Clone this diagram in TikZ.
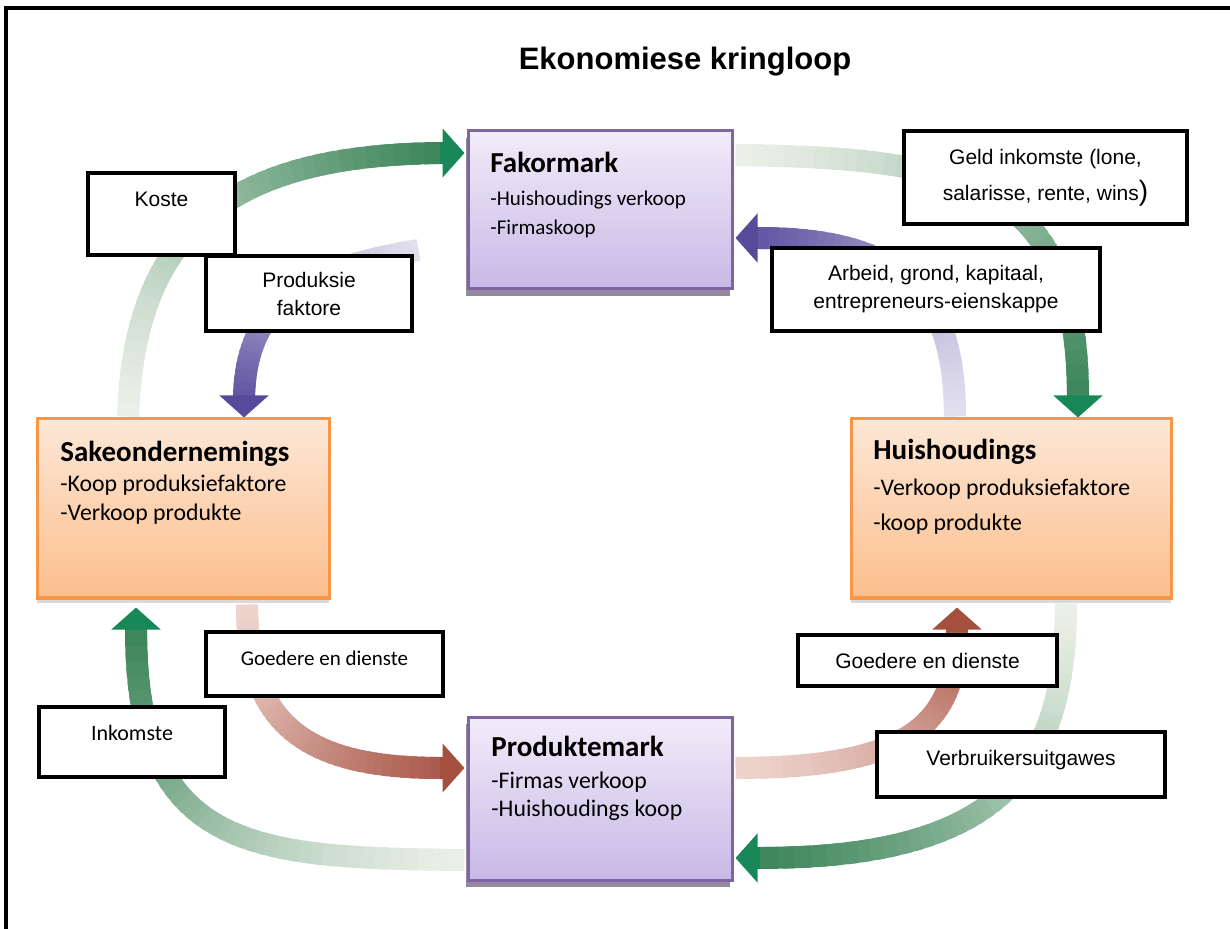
\documentclass[tikz,border=0pt]{standalone}
\usepackage{fontspec}
\setmainfont{Liberation Sans}
\newfontfamily\calibri{Carlito}
\usetikzlibrary{arrows.meta,calc,shadows,backgrounds}

\definecolor{grnlight}{RGB}{236,240,232}
\definecolor{grndark}{RGB}{62,135,92}
\definecolor{grnhead}{RGB}{24,136,88}
\definecolor{purlight}{RGB}{226,224,238}
\definecolor{purdark}{RGB}{100,88,165}
\definecolor{purhead}{RGB}{88,74,155}
\definecolor{redlight}{RGB}{238,212,205}
\definecolor{reddark}{RGB}{172,92,78}
\definecolor{redhead}{RGB}{165,80,62}
\definecolor{mkborder}{RGB}{128,100,162}
\definecolor{mktop}{RGB}{241,236,249}
\definecolor{mkbottom}{RGB}{200,184,230}
\definecolor{hhborder}{RGB}{247,150,70}
\definecolor{hhtop}{RGB}{253,231,214}
\definecolor{hhbottom}{RGB}{251,190,140}

% light colour, dark colour, head colour, start, control, control, end of shaft, tip
\newcommand\flow[8]{%
  \foreach \seg in {1,...,40}{
    \pgfmathsetmacro\pa{(\seg-1)/40}
    \pgfmathsetmacro\pb{min(1,(\seg+0.7)/40)}
    \pgfmathtruncatemacro\mix{100*(\seg/40)^1.2}
    \path #4 .. controls #5 and #6 .. #7 coordinate[pos=\pa] (fa) coordinate[pos=\pb] (fb);
    \draw[shaft, draw=#2!\mix!#1] (fa) -- (fb);
  }
  \draw[shaft, draw=#3, -{Triangle[width=24pt,length=11pt]}] #7 -- #8;
}

\begin{document}
\begin{tikzpicture}[x=0.5pt,y=-0.5pt,
  shaft/.style={line width=11pt},
  mkbox/.style={draw=mkborder, line width=1.5pt, top color=mktop, bottom color=mkbottom,
    drop shadow={shadow xshift=-1pt, shadow yshift=-3.5pt, fill=mkborder!60!black, opacity=.6}},
  hhbox/.style={draw=hhborder, line width=1.5pt, top color=hhtop, bottom color=hhbottom,
    drop shadow={shadow xshift=0pt, shadow yshift=-2.5pt, fill=black, opacity=.15}},
  boxtext/.style={anchor=north west, inner sep=0pt, align=left},
  lbox/.style={draw, line width=2.2pt, fill=white, align=center, font=\fontsize{10.5}{14}\selectfont}]
\useasboundingbox (0,0) rectangle (1230,929);
\draw[line width=2pt] (6,929) -- (6,8) -- (1230,8);

\node[font=\bfseries\fontsize{15.5}{18}\selectfont] (title) at (685,62) {Ekonomiese kringloop};

\node[mkbox, minimum width=132pt, minimum height=79pt] (fakor) at (600,210) {};
\node[boxtext, font=\calibri\fontsize{10.5}{14.5}\selectfont] (fakortxt) at (490,152)
  {{\bfseries\fontsize{14.5}{16}\selectfont Fakormark}\\[2pt]-Huishoudings verkoop\\-Firmaskoop};
\node[mkbox, minimum width=132pt, minimum height=81.5pt] (produk) at (600,798.5) {};
\node[boxtext, font=\calibri\fontsize{11.9}{14}\selectfont] (produktxt) at (491,736)
  {{\bfseries\fontsize{14.5}{16}\selectfont Produktemark}\\[2pt]-Firmas verkoop\\-Huishoudings koop};
\node[hhbox, minimum width=146pt, minimum height=89.5pt] (sake) at (183,508.5) {};
\node[boxtext, font=\calibri\fontsize{11.9}{14.5}\selectfont] (saketxt) at (60,441)
  {{\bfseries\fontsize{14.5}{16}\selectfont Sakeondernemings}\\[0.5pt]-Koop produksiefaktore\\-Verkoop produkte};
\node[hhbox, minimum width=160pt, minimum height=89.5pt] (huis) at (1011,508.5) {};
\node[boxtext, font=\calibri\fontsize{11.9}{17.5}\selectfont] (huistxt) at (873,439)
  {{\bfseries\fontsize{14.5}{16}\selectfont Huishoudings}\\[0.5pt]-Verkoop produksiefaktore\\-koop produkte};

\begin{scope}[on background layer]
\flow{grnlight}{grndark}{grnhead}{($(sake.north)+(-55,-1)$)}{(134,230)}{(230,155)}{(440,153)}{($(fakor.west)+(-2,-57)$)}
\flow{purlight}{purdark}{purhead}{($(fakor.west)+(-48,40)$)}{(310,268)}{(246,300)}{(244,397)}{($(sake.north)+(61,0)$)}
\flow{grnlight}{grndark}{grnhead}{($(fakor.east)+(2,-55)$)}{(960,158)}{(1078,180)}{(1078,396)}{($(huis.north)+(67,0)$)}
\flow{purlight}{purdark}{purhead}{($(huis.north)+(-56,-1)$)}{(955,290)}{(900,238)}{(758,238)}{($(fakor.east)+(2,28)$)}
\flow{redlight}{reddark}{redhead}{($(sake.south)+(64,5)$)}{(247,720)}{(300,768)}{(440,768)}{($(produk.west)+(-2,-30.5)$)}
\flow{grnlight}{grndark}{grnhead}{($(produk.west)+(-2,61.5)$)}{(250,858)}{(136,850)}{(136,630)}{($(sake.south)+(-47,8)$)}
\flow{redlight}{reddark}{redhead}{($(produk.east)+(2,-30.5)$)}{(900,768)}{(957,730)}{(957,632)}{($(huis.south)+(-54,8)$)}
\flow{grnlight}{grndark}{grnhead}{($(huis.south)+(55,4)$)}{(1066,770)}{(1000,858)}{(760,858)}{($(produk.east)+(2,59.5)$)}
\end{scope}

\node[lbox, minimum width=73.5pt, minimum height=41pt, text depth=15pt] (koste) at (161.5,214) {Koste};
\node[lbox, minimum width=103pt, minimum height=37.5pt] (prodfak) at (309,293.5) {Produksie\\faktore};
\node[lbox, minimum width=141.5pt, minimum height=46.5pt] (geld) at (1045.5,177.5)
  {Geld inkomste (lone,\\[4pt]salarisse, rente, wins{\fontsize{14}{14}\selectfont)}};
\node[lbox, minimum width=164pt, minimum height=41.5pt] (arbeid) at (936,289.5) {Arbeid, grond, kapitaal,\\entrepreneurs-eienskappe};
\node[lbox, minimum width=118.5pt, minimum height=32pt, text depth=6pt, font=\calibri\fontsize{10.5}{14}\selectfont] (goedL) at (324.5,664) {Goedere en dienste};
\node[lbox, minimum width=93pt, minimum height=35pt, text depth=9pt, font=\calibri\fontsize{11}{14}\selectfont] (inkom) at (132,742) {Inkomste};
\node[lbox, minimum width=129.5pt, minimum height=25.5pt] (goedR) at (927.5,660.5) {Goedere en dienste};
\node[lbox, minimum width=144pt, minimum height=32.5pt, text depth=6.5pt] (verbr) at (1021,764.5) {Verbruikersuitgawes};
\end{tikzpicture}
\end{document}
